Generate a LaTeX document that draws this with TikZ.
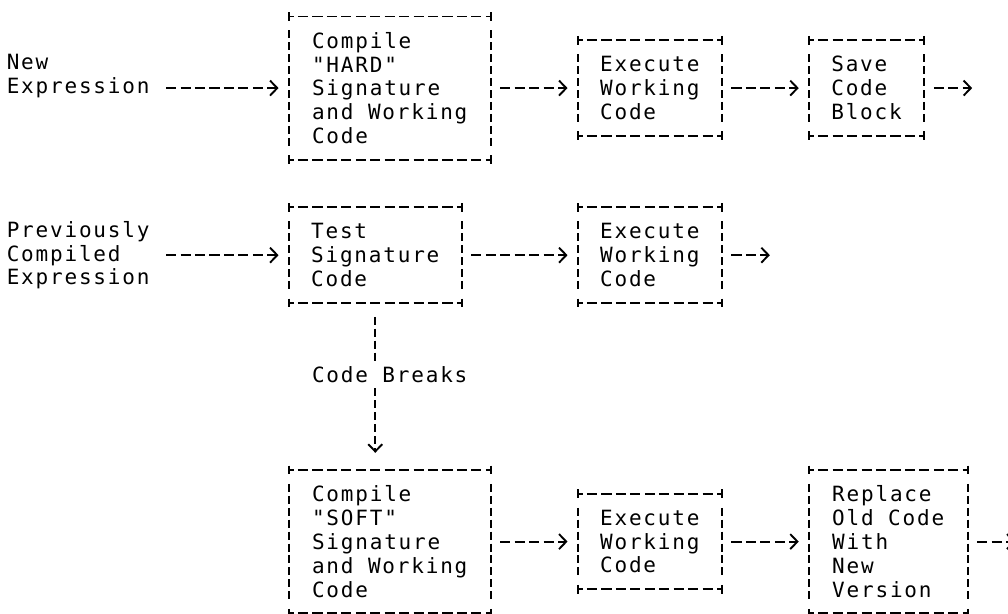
\documentclass[tikz,border=0pt]{standalone}
\usepackage{fontspec}
\usetikzlibrary{arrows.meta}
\newfontfamily\asciifont{DejaVu Sans Mono}[LetterSpace=8.6]

\tikzset{
	txt/.style={font=\fontsize{10.5pt}{11.935pt}\asciifont, align=left, inner sep=0pt, outer sep=0pt},
	hb/.style={dash pattern=on 5.05pt off 2.175pt, dash phase=2.525pt},
	vb/.style={dash pattern=on 4pt off 1.9675pt, dash phase=4.9875pt, shorten <=5.9675pt, shorten >=5.9675pt},
	box/.style 2 args={txt, minimum width=#1*7.225pt, minimum height=#2*11.935pt,
		append after command={
			(\tikzlastnode.north west) edge[hb] (\tikzlastnode.north east)
			(\tikzlastnode.south west) edge[hb] (\tikzlastnode.south east)
			(\tikzlastnode.north west) edge[vb] (\tikzlastnode.south west)
			(\tikzlastnode.north east) edge[vb] (\tikzlastnode.south east)}},
	flow/.style={dash pattern=on 5.05pt off 2.175pt, -{Straight Barb[length=3.6pt,width=7.5pt]}, shorten <=4.7pt, shorten >=5pt},
	vflow/.style={dash pattern=on 4pt off 1.9675pt, dash phase=4.9875pt, -{Straight Barb[length=3.6pt,width=7pt]}, shorten <=5.9675pt, shorten >=8.6pt}
}

\begin{document}
\begin{tikzpicture}[x=7.225pt, y=-11.935pt, line width=0.95pt]
	\useasboundingbox (-0.97,-0.69) rectangle (68.79,25.03);

	\node[txt, anchor=west] (newexpr) at (-0.5,2.5) {New\\Expression};
	\node[box={14}{6}] (hard) at (26,3) {Compile\\"HARD"\\Signature\\and Working\\Code};
	\node[box={10}{4}] (runa) at (44,3) {Execute\\Working\\Code};
	\node[box={8}{4}] (save) at (59,3) {Save\\Code\\Block};
	\coordinate (saveout) at (67,3);

	\node[txt, anchor=west] (oldexpr) at (-0.5,10) {Previously\\Compiled\\Expression};
	\node[box={12}{4}] (test) at (25,10) {Test\\Signature\\Code};
	\node[box={10}{4}] (runb) at (44,10) {Execute\\Working\\Code};
	\coordinate (runbout) at (53,10);

	\node[box={14}{6}] (soft) at (26,22) {Compile\\"SOFT"\\Signature\\and Working\\Code};
	\node[box={10}{4}] (runc) at (44,22) {Execute\\Working\\Code};
	\node[box={11}{6}] (swap) at (60.5,22) {Replace\\Old Code\\With\\New\\Version};
	\coordinate (swapout) at (70,22);

	\foreach \n in {hard,runa,save,test,runb,soft,runc,swap}
		\foreach \c in {north west,north east,south west,south east}
			\draw ([yshift=2.2pt]\n.\c) -- ([yshift=-2.2pt]\n.\c);

	\draw[flow, shorten <=8.3pt] (newexpr.east |- hard) -- (hard);
	\draw[flow] (hard) -- (runa);
	\draw[flow] (runa) -- (save);
	\draw[flow] (save) -- (saveout);

	\draw[flow, shorten <=8.3pt] (oldexpr.east |- test) -- (test);
	\draw[flow] (test) -- (runb);
	\draw[flow] (runb) -- (runbout);
	\draw[vflow] (test.south) -- node[txt, fill=white, inner sep=2pt, pos=3/7, xshift=7.225pt] (brk) {Code Breaks} (test.south |- soft.north);

	\draw[flow] (soft) -- (runc);
	\draw[flow] (runc) -- (swap);
	\draw[flow] (swap) -- (swapout);
\end{tikzpicture}
\end{document}
